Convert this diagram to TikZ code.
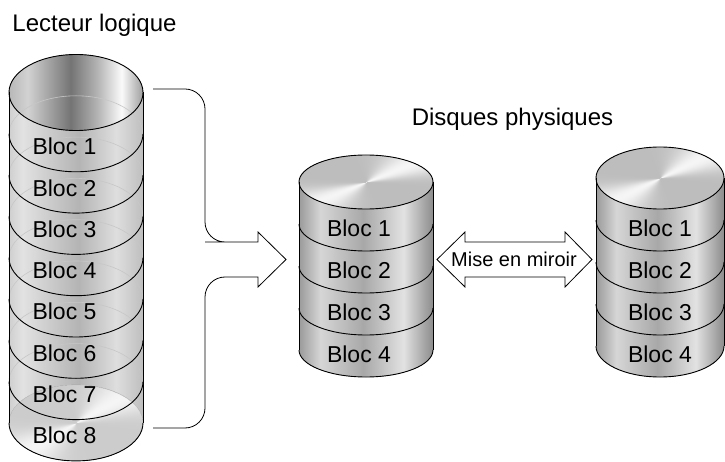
\documentclass[tikz,border=0pt]{standalone}
\usepackage{fontspec}
\setmainfont{Liberation Sans}
\usepackage{xcolor}
\definecolor{lgInA}{HTML}{B8B8B8}
\definecolor{lgInB}{HTML}{D2D2D2}
\definecolor{lgInC}{HTML}{747474}
\definecolor{lgInD}{HTML}{B4B4B4}
\definecolor{lgInE}{HTML}{FAFAFA}
\definecolor{lgInF}{HTML}{9E9E9E}
\definecolor{lgBodyA}{HTML}{CFCFCF}
\definecolor{lgBodyB}{HTML}{E2E2E2}
\definecolor{lgBodyC}{HTML}{B4B4B4}
\definecolor{lgBodyD}{HTML}{DEDEDE}
\definecolor{lgBodyE}{HTML}{BEBEBE}
\definecolor{dkA}{HTML}{9A9A9A}
\definecolor{dkB}{HTML}{D6D6D6}
\definecolor{dkC}{HTML}{A8A8A8}
\definecolor{dkD}{HTML}{E2E2E2}
\definecolor{dkE}{HTML}{8C8C8C}
\pgfdeclarehorizontalshading{lgInner}{100bp}{color(0bp)=(lgInA); color(25bp)=(lgInA); color(32bp)=(lgInB); color(48bp)=(lgInC); color(58bp)=(lgInD); color(67bp)=(lgInE); color(75bp)=(lgInF); color(100bp)=(lgInF)}
\pgfdeclarehorizontalshading{lgBody}{100bp}{color(0bp)=(lgBodyA); color(25bp)=(lgBodyA); color(30bp)=(lgBodyB); color(51bp)=(lgBodyC); color(65bp)=(lgBodyD); color(75bp)=(lgBodyE); color(100bp)=(lgBodyE)}
\pgfdeclarehorizontalshading{dkBody}{100bp}{color(0bp)=(dkA); color(25bp)=(dkA); color(33bp)=(dkB); color(49bp)=(dkC); color(64bp)=(dkD); color(75bp)=(dkE); color(100bp)=(dkE)}
\pgfdeclarefunctionalshading{dkTop}{\pgfpointorigin}{\pgfpoint{100bp}{100bp}}{}{
  50 sub exch 50 sub atan 45 sub cos abs dup mul dup mul dup mul 0.22 mul 0.74 add dup dup
}
\pgfdeclarefunctionalshading{lgDisk}{\pgfpointorigin}{\pgfpoint{100bp}{100bp}}{}{
  50 sub exch 50 sub atan 45 sub cos abs dup mul dup mul dup mul 0.16 mul 0.80 add dup dup
}

\begin{document}
\begin{tikzpicture}[x=1pt,y=-1pt]
  \tikzset{
    bloc/.style={font=\fontsize{23}{26}\selectfont,inner sep=0pt},
    heading/.style={font=\fontsize{24}{28}\selectfont,inner sep=0pt},
    rim/.style={draw=black,line width=0.9pt},
    backrim/.style={draw=black!22,line width=0.6pt},
    outline/.style={draw=black,fill=white,line width=0.8pt,line join=miter}
  }
  \useasboundingbox (0,0) rectangle (725,462);

  \node[heading] (logic) at (94.5,25) {Lecteur logique};
  \node[heading] (phys) at (512.5,119) {Disques physiques};

  \fill[shading=lgBody] (9,92.5) -- (9,422.9) arc[start angle=180,end angle=0,x radius=67,y radius=38] -- (143,92.5) -- cycle;
  \fill[shading=lgDisk] (76,422.9) ellipse[x radius=67,y radius=38];
  \fill[shading=lgInner] (76,92.5) ellipse[x radius=67,y radius=38];
  \foreach \k in {1,...,8}
    {\draw[backrim] (9,{92.5+41.3*\k}) arc[start angle=180,end angle=360,x radius=67,y radius=38];}
  \foreach \k in {1,...,8}
    {\draw[rim] (9,{92.5+41.3*\k}) arc[start angle=180,end angle=0,x radius=67,y radius=38];}
  \draw[rim] (76,92.5) ellipse[x radius=67,y radius=38];
  \draw[rim] (9,92.5) -- (9,422.9) (143,92.5) -- (143,422.9);
  \foreach \k in {1,...,8}
    {\node[bloc] (lb\k) at (64.5,{146.5+41.3*(\k-1)}) {Bloc \k};}

  \foreach \cx/\rx/\ry/\lx/\nm in {366/67/27/359/m,660/64/31/660/r}{
    \fill[shading=dkBody] ({\cx-\rx},{209-\ry}) -- ({\cx-\rx},{377-\ry}) arc[start angle=180,end angle=0,x radius=\rx,y radius=\ry] -- ({\cx+\rx},{209-\ry}) -- cycle;
    \fill[shading=dkTop] (\cx,{209-\ry}) ellipse[x radius=\rx,y radius=\ry];
    \draw[rim] (\cx,{209-\ry}) ellipse[x radius=\rx,y radius=\ry];
    \foreach \k in {1,...,4}
      {\draw[rim] ({\cx-\rx},{209-\ry+42*\k}) arc[start angle=180,end angle=0,x radius=\rx,y radius=\ry];}
    \draw[rim] ({\cx-\rx},{209-\ry}) -- ({\cx-\rx},{377-\ry}) ({\cx+\rx},{209-\ry}) -- ({\cx+\rx},{377-\ry});
    \foreach \k in {1,...,4}
      {\node[bloc] (\nm b\k) at (\lx,{228+42*(\k-1)}) {Bloc \k};}
  }

  \coordinate (braceTop) at (153,89);
  \coordinate (braceBot) at (153,428);
  \draw[outline,fill=none] (braceTop) [rounded corners=20] -- (205,89) -- (205,242) -- (225,242) [sharp corners] -- (258,242) -- (258,232) -- (286,259.5) -- (258,287) -- (258,277) -- (235,277) -- (230,277) [rounded corners=20] -- (205,277) -- (205,428) -- (braceBot);

  \draw[outline] (437,259.5) -- (465,232) -- (465,242) -- (565,242) -- (565,232) -- (592,259.5) -- (565,287) -- (565,277) -- (465,277) -- (465,287) -- cycle;
  \node[inner sep=0pt,font=\fontsize{20}{24}\selectfont] (mirror) at (514,259.5) {Mise en miroir};
\end{tikzpicture}
\end{document}
